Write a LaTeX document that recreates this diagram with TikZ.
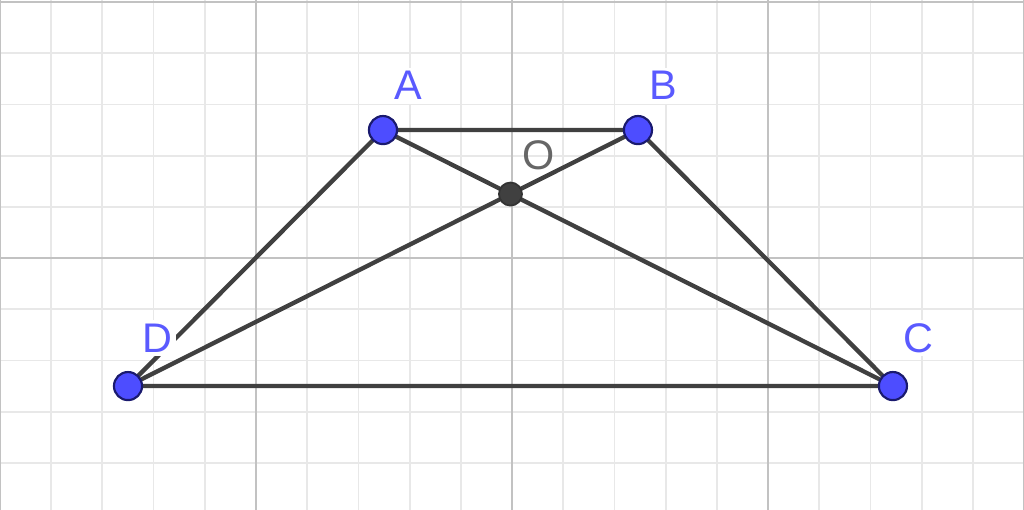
\documentclass[tikz,border=0pt]{standalone}
\usepackage{fontspec}
\setmainfont{Liberation Sans}
\definecolor{ptblue}{RGB}{77,77,255}
\definecolor{ptedge}{RGB}{26,26,110}
\definecolor{seg}{RGB}{64,64,64}
\definecolor{lbl}{RGB}{90,90,255}
\begin{document}
\begin{tikzpicture}[line join=round, line cap=round,font=\fontsize{11.5}{13}\selectfont,>=stealth,x=0.5cm,y=0.5cm]
				\useasboundingbox (-10,-4.92) rectangle (10,5.04);
				\begin{scope}
					\clip (-10,-4.92) rectangle (10,5.04);
					\draw[line width=0.5pt,black!9] (-10,-5) grid[step=1] (10,6);
					\draw[line width=0.7pt,black!24] (-10,-5) grid[step=5] (10,6);
				\end{scope}
				\path 
				(0,0) coordinate (E)
				(E)--++(-7.5,-2.5) coordinate (D)
				(D)--++(4.98,5) coordinate (A)
				(A)--++(4.98,0) coordinate (B)
				(D)--++(14.94,0) coordinate (C)
				;
				\path (intersection of A--C and B--D) coordinate (O);
				\draw[seg,line width=1.2pt] (A)--(B)--(C)--(D)--cycle;
				\draw[seg,line width=1.2pt] (A)--(C) (B)--(D);
				\foreach \x/\g/\r in {A/60/1,B/60/1,C/62/1.06,D/58/1.1}{
					\draw[fill=ptblue,draw=ptedge,line width=0.6pt] (\x) circle (3.9pt)+(\g:\r) node[lbl,fill=white,inner sep=1pt] {\x};
				};
				\draw[fill=seg,draw=black!80,line width=0.5pt] (O) circle (3.2pt)+(54:0.94) node[black!60] {O};
			\end{tikzpicture}
\end{document}
